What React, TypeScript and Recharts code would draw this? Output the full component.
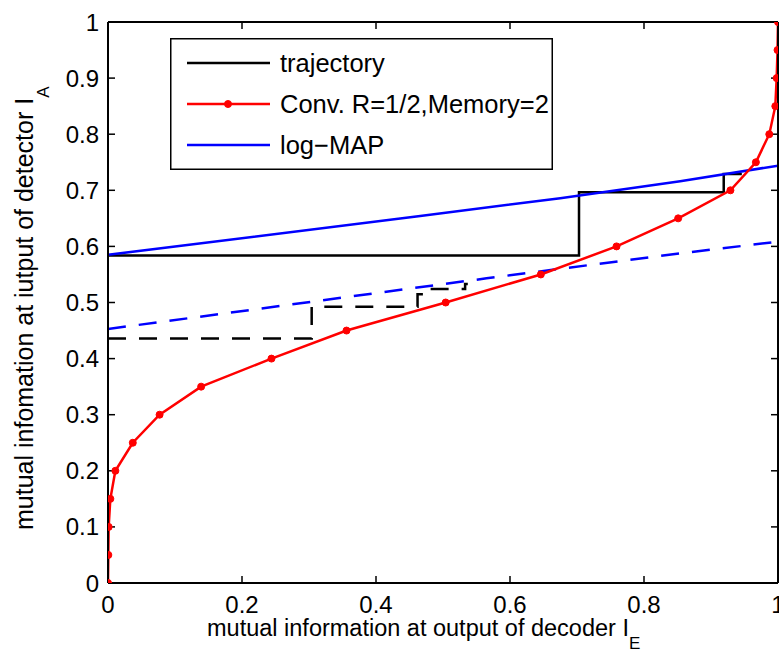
import React from 'react';
import { LineChart, Line, XAxis, YAxis, Legend } from 'recharts';

// ---- data ----
const convY = [0, 0.05, 0.1, 0.15, 0.2, 0.25, 0.3, 0.35, 0.4, 0.45, 0.5, 0.55, 0.6, 0.65, 0.7, 0.75, 0.8, 0.85, 0.9, 0.95, 1.0];
const convX = [0, 0.0005, 0.001, 0.0035, 0.011, 0.037, 0.077, 0.139, 0.244, 0.356, 0.504, 0.646, 0.759, 0.851, 0.929, 0.967, 0.987, 0.996, 0.998, 0.9993, 1.0];

const logMapX = [0, 0.466, 0.675, 0.854, 1];
const logMapY = [0.585, 0.654, 0.686, 0.716, 0.744];

const logMapDashedX = [0, 0.565, 0.854, 1];
const logMapDashedY = [0.4528, 0.5431, 0.5877, 0.6084];

const trajSolidX = [0, 0.703, 0.703, 0.919, 0.919, 0.946];
const trajSolidY = [0.584, 0.584, 0.6964, 0.6964, 0.729, 0.729];

const trajDashedX = [0, 0.304, 0.304, 0.462, 0.462, 0.478, 0.478, 0.533, 0.533, 0.537];
const trajDashedY = [0.436, 0.436, 0.4925, 0.4925, 0.5146, 0.5146, 0.524, 0.524, 0.533, 0.533];

const xTicks = [0, 0.2, 0.4, 0.6, 0.8, 1];
const yTicks = [0, 0.1, 0.2, 0.3, 0.4, 0.5, 0.6, 0.7, 0.8, 0.9, 1];

const seriesNames = ['trajectory', 'Conv. R=1/2,Memory=2', 'log\u2212MAP'];
const xTitle = 'mutual information at output of decoder I';
const xTitleSub = 'E';
const yTitle = 'mutual infomation at iutput of detector I';
const yTitleSub = 'A';

const zip = (xs: number[], ys: number[]) => xs.map((x, i) => ({ x, y: ys[i] }));

const convData = zip(convX, convY);
const logMapData = zip(logMapX, logMapY);
const logMapDashedData = zip(logMapDashedX, logMapDashedY);
const trajSolidData = zip(trajSolidX, trajSolidY);
const trajDashedData = zip(trajDashedX, trajDashedY);

const FONT = 'Arial, "Liberation Sans", Helvetica, sans-serif';
const RED = '#ff0000';
const BLUE = '#0000ff';
const BLACK = '#000000';
const DASH = '18 13';

const seriesWidth: Record<string, number> = {
  [seriesNames[0]]: 2.5,
  [seriesNames[1]]: 2.5,
  [seriesNames[2]]: 2.5,
};
const markerNames = new Set([seriesNames[1]]);

const LegendBox = (props: any) => {
  const payload = (props.payload || [])
    .filter((p: any) => seriesNames.indexOf(p.value) >= 0)
    .sort((a: any, b: any) => seriesNames.indexOf(a.value) - seriesNames.indexOf(b.value));
  const rows = [25, 66, 107];
  return (
    <svg width={383} height={132} style={{ display: 'block' }}>
      <rect x={0.75} y={0.75} width={381.5} height={130.5} fill="#ffffff" stroke={BLACK} strokeWidth={1.5} />
      {payload.map((p: any, i: number) => {
        const cy = rows[i];
        const color = p.color;
        return (
          <g key={i}>
            <line x1={17} x2={100} y1={cy} y2={cy} stroke={color} strokeWidth={seriesWidth[p.value] || 2} />
            {markerNames.has(p.value) && <circle cx={58} cy={cy} r={3.5} fill={color} stroke={color} />}
            <text x={110} y={cy + 9} fontSize={25.5} fontFamily={FONT} fill={BLACK}>{p.value}</text>
          </g>
        );
      })}
    </svg>
  );
};

const XTitle = () => (
  <text x={207} y={636} fontSize={23.5} fontFamily={FONT} fill={BLACK} textAnchor="start">
    {xTitle}
    <tspan fontSize={17} dy={13}>{xTitleSub}</tspan>
  </text>
);

const YTitle = () => (
  <text x={33} y={530} fontSize={25} fontFamily={FONT} fill={BLACK} textAnchor="start" transform="rotate(-90, 33, 530)">
    {yTitle}
    <tspan fontSize={17} dy={16}>{yTitleSub}</tspan>
  </text>
);

const tickStyle = { fill: BLACK, fontSize: 24, fontFamily: FONT };
const axisLineStyle = { stroke: BLACK, strokeWidth: 2 };
const tickLineStyle = { stroke: BLACK, strokeWidth: 1.5 };
const fmt = (v: number) => String(v);
const blank = () => '';

export default function App() {
  return (
    <div style={{ position: 'absolute', left: 0, top: 0, width: 779, height: 654, background: '#ffffff' }}>
      <LineChart width={779} height={654} margin={{ top: 0, right: 0, bottom: 0, left: 0 }}>
        <XAxis
          xAxisId="bottom"
          type="number"
          dataKey="x"
          domain={[0, 1]}
          allowDataOverflow
          ticks={xTicks}
          interval={0}
          tickFormatter={fmt}
          tickSize={-7}
          tickMargin={20}
          height={71}
          axisLine={axisLineStyle}
          tickLine={tickLineStyle}
          tick={tickStyle}
          label={{ content: () => <XTitle /> }}
        />
        <XAxis
          xAxisId="top"
          orientation="top"
          type="number"
          dataKey="x"
          domain={[0, 1]}
          allowDataOverflow
          ticks={xTicks}
          interval={0}
          tickFormatter={blank}
          tickSize={-7}
          tickMargin={0}
          height={22}
          axisLine={axisLineStyle}
          tickLine={tickLineStyle}
          tick={tickStyle}
        />
        <YAxis
          yAxisId="left"
          type="number"
          domain={[0, 1]}
          allowDataOverflow
          ticks={yTicks}
          interval={0}
          tickFormatter={fmt}
          tickSize={-7}
          tickMargin={16}
          width={108}
          axisLine={axisLineStyle}
          tickLine={tickLineStyle}
          tick={tickStyle}
          label={{ content: () => <YTitle /> }}
        />
        <YAxis
          yAxisId="right"
          orientation="right"
          type="number"
          domain={[0, 1]}
          allowDataOverflow
          ticks={yTicks}
          interval={0}
          tickFormatter={blank}
          tickSize={-7}
          tickMargin={0}
          width={1}
          axisLine={axisLineStyle}
          tickLine={tickLineStyle}
          tick={tickStyle}
        />
        <Legend
          layout="vertical"
          align="center"
          verticalAlign="middle"
          wrapperStyle={{ left: 170, top: 38, width: 383, height: 132 }}
          content={LegendBox}
        />
        <Line
          xAxisId="bottom"
          yAxisId="left"
          data={trajSolidData}
          dataKey="y"
          name={seriesNames[0]}
          type="linear"
          stroke={BLACK}
          strokeWidth={2.5}
          dot={false}
          activeDot={false}
          isAnimationActive={false}
        />
        <Line
          xAxisId="bottom"
          yAxisId="left"
          data={trajDashedData}
          dataKey="y"
          name="trajectory-dashed"
          legendType="none"
          type="linear"
          stroke={BLACK}
          strokeWidth={2.5}
          strokeDasharray={DASH}
          dot={false}
          activeDot={false}
          isAnimationActive={false}
        />
        <Line
          xAxisId="bottom"
          yAxisId="left"
          data={logMapData}
          dataKey="y"
          name={seriesNames[2]}
          type="linear"
          stroke={BLUE}
          strokeWidth={2.5}
          dot={false}
          activeDot={false}
          isAnimationActive={false}
        />
        <Line
          xAxisId="bottom"
          yAxisId="left"
          data={logMapDashedData}
          dataKey="y"
          name="log-MAP-dashed"
          legendType="none"
          type="linear"
          stroke={BLUE}
          strokeWidth={2.5}
          strokeDasharray={DASH}
          dot={false}
          activeDot={false}
          isAnimationActive={false}
        />
        <Line
          xAxisId="bottom"
          yAxisId="left"
          data={convData}
          dataKey="y"
          name={seriesNames[1]}
          type="linear"
          stroke={RED}
          strokeWidth={2.5}
          dot={{ r: 3.5, fill: RED, stroke: RED, strokeWidth: 1 }}
          activeDot={false}
          isAnimationActive={false}
        />
      </LineChart>
    </div>
  );
}
